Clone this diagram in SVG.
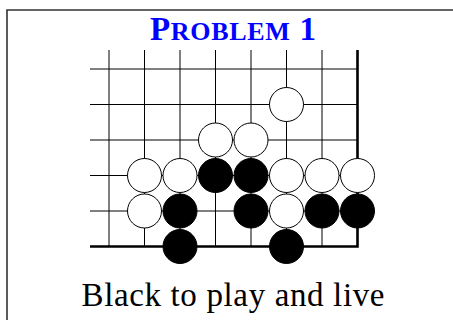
<svg xmlns="http://www.w3.org/2000/svg" width="453" height="320" viewBox="0 0 453 320">
<style>
.grid line{stroke:#000;stroke-width:1}
.edge{stroke:#000;stroke-width:2.6;fill:none}
.w{fill:#fff;stroke:#000;stroke-width:1}
.b{fill:#000;stroke:#000;stroke-width:1}
.title{font-family:"Liberation Serif",serif;font-weight:bold;fill:#0000ff}
.cap{font-family:"Liberation Serif",serif;fill:#000}
</style>
<rect width="453" height="320" fill="#fff"/>
<path d="M7,320 V10 H453" fill="none" stroke="#333" stroke-width="1.6"/>
<text class="title" x="233" y="40" text-anchor="middle" font-size="33" textLength="166" lengthAdjust="spacing">P<tspan font-size="26">ROBLEM</tspan> 1</text>
<g id="board">
<g class="grid">
<line x1="109" y1="50" x2="109" y2="246.5"/>
<line x1="144.5" y1="50" x2="144.5" y2="246.5"/>
<line x1="180" y1="50" x2="180" y2="246.5"/>
<line x1="215.5" y1="50" x2="215.5" y2="246.5"/>
<line x1="251" y1="50" x2="251" y2="246.5"/>
<line x1="286.5" y1="50" x2="286.5" y2="246.5"/>
<line x1="322" y1="50" x2="322" y2="246.5"/>
<line x1="90" y1="69" x2="357.5" y2="69"/>
<line x1="90" y1="104.5" x2="357.5" y2="104.5"/>
<line x1="90" y1="140" x2="357.5" y2="140"/>
<line x1="90" y1="175.5" x2="357.5" y2="175.5"/>
<line x1="90" y1="211" x2="357.5" y2="211"/>
</g>
<path class="edge" d="M90,246.5 H357.5 V50"/>
</g>
<g id="stones">
<circle class="w" cx="286.5" cy="104.5" r="17"/>
<circle class="w" cx="215.5" cy="140" r="17"/>
<circle class="w" cx="251" cy="140" r="17"/>
<circle class="w" cx="144.5" cy="175.5" r="17"/>
<circle class="w" cx="180" cy="175.5" r="17"/>
<circle class="b" cx="215.5" cy="175.5" r="17"/>
<circle class="b" cx="251" cy="175.5" r="17"/>
<circle class="w" cx="286.5" cy="175.5" r="17"/>
<circle class="w" cx="322" cy="175.5" r="17"/>
<circle class="w" cx="357.5" cy="175.5" r="17"/>
<circle class="w" cx="144.5" cy="211" r="17"/>
<circle class="b" cx="180" cy="211" r="17"/>
<circle class="b" cx="251" cy="211" r="17"/>
<circle class="w" cx="286.5" cy="211" r="17"/>
<circle class="b" cx="322" cy="211" r="17"/>
<circle class="b" cx="357.5" cy="211" r="17"/>
<circle class="b" cx="180" cy="246.5" r="17"/>
<circle class="b" cx="286.5" cy="246.5" r="17"/>
</g>
<text class="cap" x="233" y="306" text-anchor="middle" font-size="33" textLength="303" lengthAdjust="spacing">Black to play and live</text>
</svg>
